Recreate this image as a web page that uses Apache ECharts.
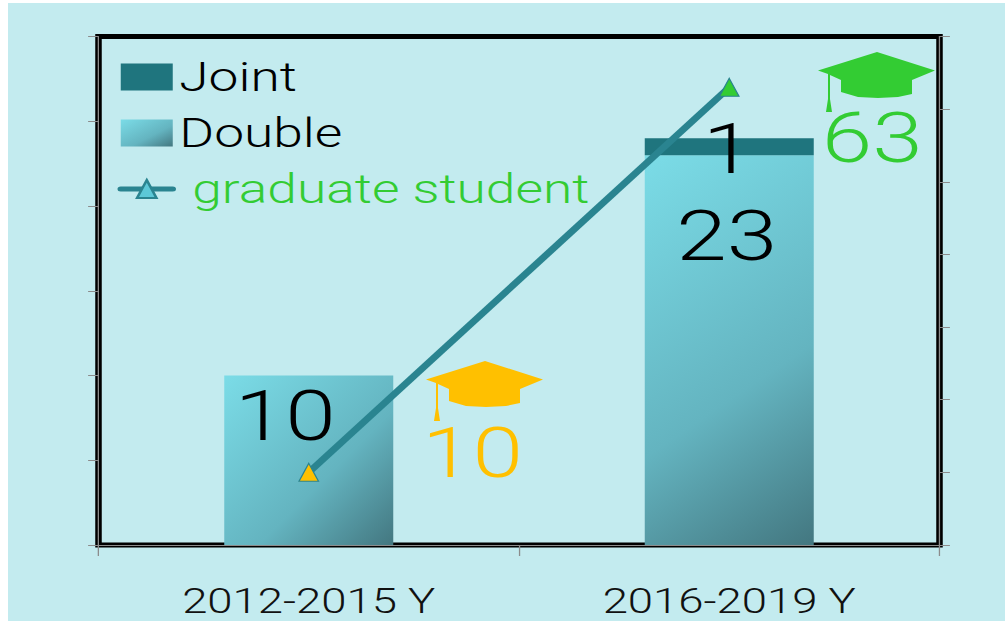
<!DOCTYPE html>
<html>
<head>
<meta charset="utf-8">
<title>graduate student</title>
<script src="https://cdn.jsdelivr.net/npm/echarts@6/dist/echarts.min.js"></script>
<style>
    html, body { margin: 0; padding: 0; background: #fff; overflow: hidden; width: 1005px; height: 621px; }
    #chart { position: absolute; left: 8px; top: 3px; height: 618px; transform-origin: 0 0; background: #c3ebef; }
</style>
</head>
<body>
<div id="chart"></div>
<script>
const categories = ['2012-2015 Y', '2016-2019 Y'];
const doubleValues = [10, 23];
const jointValues = [null, 1];
const graduateValues = [10, 63];
const leftTicks = { min: 0, max: 30, interval: 5 };
const rightTicks = { min: 0, max: 70, interval: 10 };

// the reference text is stretched sideways, so the whole svg chart is widened
const stretch = 1.3;
const box = document.getElementById('chart');
box.style.width = (997 / stretch) + 'px';
box.style.transform = 'scaleX(' + stretch + ')';

const sx = function (px) { return (px - 8) / stretch; };
const sy = function (px) { return px - 3; };

// mortarboard outline, px from its top left corner
const capShape = [[59, 0], [117, 18.5], [94, 28], [94, 42], [80, 45], [60, 46], [40, 45], [23, 40], [23, 28], [12, 23],
    [12, 47], [14, 60], [8, 60], [10, 47], [10, 22], [0, 18.5]];
// triangle inside a bigger empty box, so the legend keeps it small
const markerTriangle = 'path://M108 18L183 198L33 198Z M0 0L0 0 M216 216L216 216';
const fontName = 'Roboto, "Liberation Sans", sans-serif';
const green = '#33cc33';
const orange = '#ffc000';
const teal = '#2a8490';

function capIcon(left, top, color) {
    return {
        type: 'polygon',
        shape: {
            points: capShape.map(function (p) {
                return [sx(left + p[0]), sy(top + p[1])];
            })
        },
        style: { fill: color }
    };
}

function barGradient(x2, y2) {
    return new echarts.graphic.LinearGradient(0, 0, x2, y2, [
        { offset: 0, color: '#7bdce7' },
        { offset: 0.6, color: '#64b4c0' },
        { offset: 1, color: '#437780' }
    ]);
}

const bigLabel = { show: true, fontFamily: fontName, fontWeight: 300, fontSize: 70 };

const chart = echarts.init(box, null, { renderer: 'svg' });
chart.setOption({
    animation: false,
    backgroundColor: '#c3ebef',
    grid: {
        show: true,
        left: sx(98.5),
        top: sy(36.5),
        width: (939.5 - 98.5) / stretch,
        height: 545 - 36.5,
        borderColor: '#000',
        borderWidth: 5,
        backgroundColor: 'transparent'
    },
    legend: {
        orient: 'vertical',
        left: sx(117.5),
        top: sy(56),
        padding: 0,
        itemWidth: 52 / stretch,
        itemHeight: 27,
        itemGap: 14,
        lineStyle: { width: 5, cap: 'round' },
        data: [
            { name: 'Joint', icon: 'rect', textStyle: { color: '#000' } },
            { name: 'Double', icon: 'rect', textStyle: { color: '#000' } },
            { name: 'graduate student', textStyle: { color: green, padding: [0, 0, 0, 10] } }
        ],
        textStyle: { fontFamily: fontName, fontWeight: 300, fontSize: 41, lineHeight: 42 }
    },
    xAxis: {
        type: 'category',
        data: categories,
        axisLine: { lineStyle: { color: '#8c8c8c', width: 1 } },
        axisTick: { show: true, length: 11, lineStyle: { color: '#8c8c8c', width: 1 } },
        axisLabel: { color: '#111', fontFamily: fontName, fontWeight: 300, fontSize: 35, margin: 38 }
    },
    yAxis: [{
        type: 'value',
        min: leftTicks.min,
        max: leftTicks.max,
        interval: leftTicks.interval,
        splitLine: { show: false },
        axisLine: { show: true, lineStyle: { color: '#8c8c8c', width: 1 } },
        axisTick: { show: true, length: 8, lineStyle: { color: '#8c8c8c', width: 1 } },
        axisLabel: { show: false }
    }, {
        type: 'value',
        position: 'right',
        min: rightTicks.min,
        max: rightTicks.max,
        interval: rightTicks.interval,
        splitLine: { show: false },
        axisLine: { show: true, lineStyle: { color: '#8c8c8c', width: 1 } },
        axisTick: { show: true, length: 8, lineStyle: { color: '#8c8c8c', width: 1 } },
        axisLabel: { show: false }
    }],
    series: [{
        name: 'Double',
        type: 'bar',
        stack: 'papers',
        barWidth: 169 / stretch,
        itemStyle: { color: barGradient(1, 1) },
        label: Object.assign({}, bigLabel, { position: 'insideTop', color: '#000' }),
        data: [
            { value: doubleValues[0], label: { offset: [-18, 1] } },
            { value: doubleValues[1], label: { offset: [-2, 41] }, itemStyle: { color: barGradient(0.35, 1.19) } }
        ]
    }, {
        name: 'Joint',
        type: 'bar',
        stack: 'papers',
        barWidth: 169 / stretch,
        itemStyle: { color: '#1f757e' },
        label: Object.assign({}, bigLabel, { position: 'inside', color: '#000', offset: [-1, 3] }),
        data: jointValues
    }, {
        name: 'graduate student',
        type: 'line',
        yAxisIndex: 1,
        symbol: markerTriangle,
        symbolSize: 21.6,
        lineStyle: { color: teal, width: 6 },
        itemStyle: { color: '#5cc8d7', borderColor: teal, borderWidth: 1 },
        z: 5,
        data: [
            {
                value: graduateValues[0],
                itemStyle: { color: orange },
                label: Object.assign({}, bigLabel, { position: 'inside', color: orange, offset: [126, -19] })
            },
            {
                value: graduateValues[1],
                itemStyle: { color: green },
                label: Object.assign({}, bigLabel, { position: 'inside', color: green, offset: [110, 51] })
            }
        ]
    }],
    graphic: [capIcon(426, 361, orange), capIcon(818, 52, green)]
});
</script>
</body>
</html>
